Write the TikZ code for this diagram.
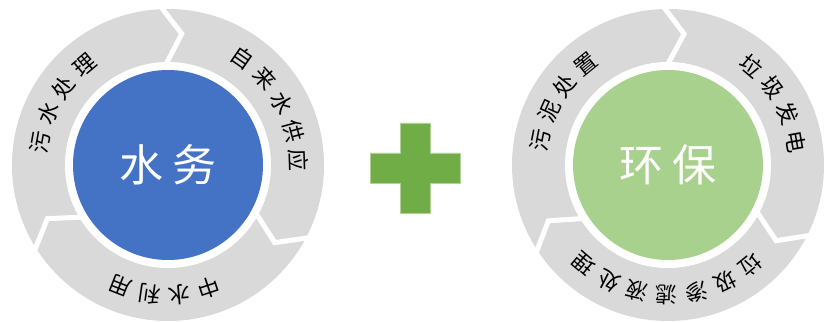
\documentclass[tikz,border=0pt]{standalone}
\usepackage{fontspec}
\newfontfamily\cjk{Noto Sans CJK SC}
\usetikzlibrary{calc}
\definecolor{ringgray}{HTML}{D9D9D9}
\definecolor{waterblue}{HTML}{4472C4}
\definecolor{ecogreen}{HTML}{A9D18E}
\definecolor{plusgreen}{HTML}{70AD47}
\begin{document}
\begin{tikzpicture}[x=1pt,y=1pt,
  ring/.style={fill=ringgray},
  gap/.style={draw=white,line width=5pt,line join=miter},
  arctext/.style={font=\cjk\fontsize{22}{22}\selectfont, inner sep=0pt, text=black},
  hub/.style={circle, minimum size=190pt, inner sep=0pt, text=white,
    font=\cjk\fontsize{44}{44}\selectfont}]
\useasboundingbox (0,0) rectangle (824,323);

% ---------- left cycle ----------
\begin{scope}[shift={(168,158)}]
  \fill[ring] (0,0) circle (156);
  \foreach \b in {92,-28,-148}
    \draw[gap] ($({\b-8}:132)!1.5!(\b:156)$) -- ({\b-8}:132) -- (\b:98);
  \fill[white] (0,0) circle (103);
  \node[hub, fill=waterblue] (hubL) at (0,0) {水\hspace{10pt}务};
  \foreach \ch [count=\i] in {污,水,处,理}
    {\pgfmathsetmacro\a{169.95-13.3*(\i-1)}
     \node[arctext, rotate=\a-90] (La\i) at (\a:130) {\ch};}
  \foreach \ch [count=\i] in {自,来,水,供,应}
    {\pgfmathsetmacro\a{55.1-13.3*(\i-1)}
     \node[arctext, rotate=\a-90] (Lb\i) at (\a:130) {\ch};}
  \foreach \ch [count=\i] in {中,水,利,用}
    {\pgfmathsetmacro\a{-71.55-13.3*(\i-1)}
     \node[arctext, rotate=\a-90] (Lc\i) at (\a:130) {\ch};}
\end{scope}

% ---------- plus ----------
\fill[plusgreen, draw=plusgreen!55!white, line width=0.6pt]
  (400,200) -- (430,200) -- (430,170) -- (460,170) -- (460,140) -- (430,140)
  -- (430,110) -- (400,110) -- (400,140) -- (370,140) -- (370,170) -- (400,170) -- cycle;

% ---------- right cycle ----------
\begin{scope}[shift={(668,158)}]
  \fill[ring] (0,0) circle (156);
  \foreach \b in {91,-27,-147}
    \draw[gap] ($({\b-8}:132)!1.5!(\b:156)$) -- ({\b-8}:132) -- (\b:98);
  \fill[white] (0,0) circle (103);
  \node[hub, fill=ecogreen] (hubR) at (0,0) {环\hspace{10pt}保};
  \foreach \ch [count=\i] in {污,泥,处,置}
    {\pgfmathsetmacro\a{168.95-13.3*(\i-1)}
     \node[arctext, rotate=\a-90] (Ra\i) at (\a:130) {\ch};}
  \foreach \ch [count=\i] in {垃,圾,发,电}
    {\pgfmathsetmacro\a{49.95-13.3*(\i-1)}
     \node[arctext, rotate=\a-90] (Rb\i) at (\a:130) {\ch};}
  \foreach \ch [count=\i] in {垃,圾,渗,滤,液,处,理}
    {\pgfmathsetmacro\a{-50.6-13.3*(\i-1)}
     \node[arctext, rotate=\a-90] (Rc\i) at (\a:130) {\ch};}
\end{scope}
\end{tikzpicture}
\end{document}
